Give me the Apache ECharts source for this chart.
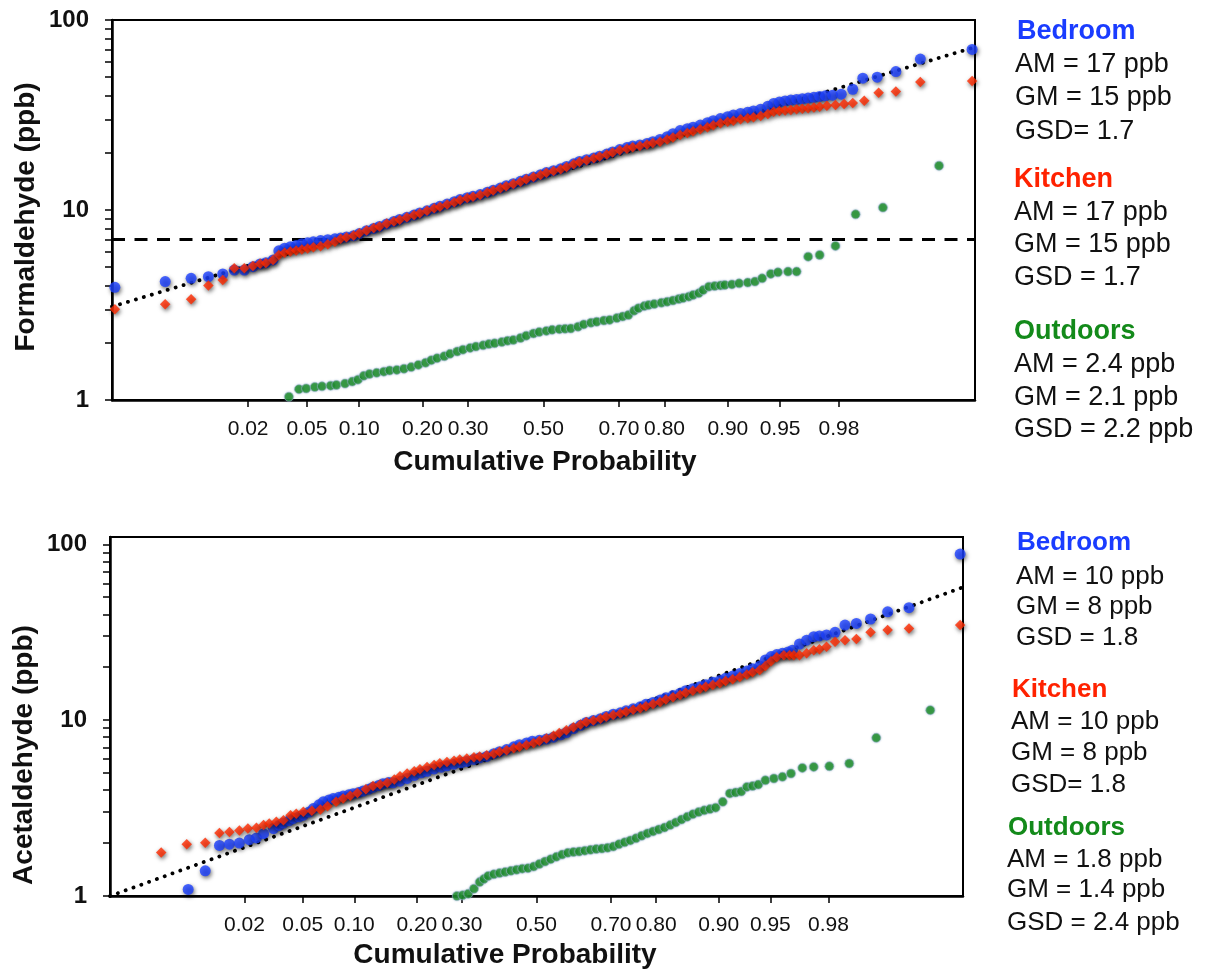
<!DOCTYPE html>
<html><head><meta charset="utf-8">
<script src="https://cdn.jsdelivr.net/npm/echarts@6/dist/echarts.min.js"></script>
<style>html,body{margin:0;padding:0;background:#fff}#c{width:1212px;height:970px}</style>
</head><body><div id="c"></div><script>
// ---- tick labels ----
const probTicks = ['0.02','0.05','0.10','0.20','0.30','0.50','0.70','0.80','0.90','0.95','0.98'];
const yMajorTicks = [1, 10, 100];
const yAllTicks = [1,2,3,4,5,6,7,8,9,10,20,30,40,50,60,70,80,90,100];

// ---- data: [normal score z, concentration ppb] ----
const formBedroom = [[-2.98,3.92],[-2.63,4.20],[-2.45,4.37],[-2.33,4.46],[-2.23,4.61],[-2.15,4.83],[-2.08,4.83],[-2.02,5.03],[-1.97,5.20],[-1.93,5.28],[-1.88,5.46],
[-1.84,6.10],[-1.80,6.30],[-1.76,6.40],[-1.72,6.50],[-1.68,6.65],[-1.64,6.72],[-1.60,6.80],[-1.55,6.90],[-1.50,6.98],[-1.45,7.05],[-1.41,7.12],[-1.37,7.20],[-1.32,7.32],[-1.28,7.52],[-1.23,7.78],[-1.18,8.00],[-1.14,8.20],[-1.09,8.45],[-1.04,8.70],[-1.00,8.92],[-0.95,9.15],[-0.90,9.40],[-0.86,9.65],[-0.81,9.90],[-0.76,10.2],[-0.72,10.45],[-0.67,10.75],[-0.62,11.05],[-0.58,11.35],[-0.53,11.6],[-0.49,11.8],[-0.44,12.05],[-0.39,12.4],[-0.35,12.7],[-0.30,13.05],[-0.26,13.4],[-0.21,13.75],[-0.16,14.15],[-0.12,14.5],[-0.07,14.9],[-0.02,15.35],[0.02,15.75],[0.07,16.1],[0.12,16.5],[0.16,16.95],[0.21,17.5],[0.25,18.0],[0.30,18.4],[0.35,18.8],[0.39,19.2],[0.44,19.7],[0.48,20.2],[0.53,20.8],[0.58,21.3],[0.62,21.7],[0.67,22.0],[0.72,22.4],[0.76,22.9],[0.81,23.5],[0.86,24.3],[0.90,25.2],[0.95,26.2],[1.00,26.8],[1.04,27.3],[1.09,28.0],[1.14,28.8],[1.18,29.5],[1.23,30.3],[1.28,31.0],[1.32,31.6],[1.37,32.2],[1.42,32.7],[1.46,33.2],[1.51,33.9],[1.56,35.2],[1.60,36.4],[1.64,37.0],[1.68,37.5],[1.72,37.9],[1.76,38.2],[1.80,38.5],[1.84,38.8],[1.88,39.2],[1.92,39.6],[1.96,39.9],[2.01,40.2],[2.07,40.7],[2.15,43.2],[2.22,49.4],[2.32,50.0],[2.45,53.5],[2.62,62.3],[2.98,70.0]];

const formKitchen = [[-2.98,3.00],[-2.63,3.19],[-2.45,3.39],[-2.33,4.00],[-2.23,4.28],[-2.15,4.93],[-2.08,4.93],[-2.02,5.07],[-1.97,5.22],[-1.93,5.26],[-1.88,5.46],[-1.84,5.80],[-1.80,5.95],[-1.76,6.05],[-1.72,6.12],[-1.68,6.20],[-1.64,6.28],[-1.60,6.36],[-1.55,6.45],[-1.50,6.60],[-1.45,6.80],[-1.41,7.05],[-1.37,7.18],[-1.32,7.35],[-1.28,7.55],[-1.23,7.80],[-1.18,8.05],[-1.14,8.20],[-1.09,8.50],[-1.04,8.70],[-1.00,8.88],[-0.95,9.15],[-0.90,9.42],[-0.86,9.62],[-0.81,9.92],[-0.76,10.2],[-0.72,10.4],[-0.67,10.7],[-0.62,11.0],[-0.58,11.3],[-0.53,11.55],[-0.49,11.75],[-0.44,12.0],[-0.39,12.35],[-0.35,12.65],[-0.30,13.0],[-0.26,13.35],[-0.21,13.7],[-0.16,14.1],[-0.12,14.5],[-0.07,14.9],[-0.02,15.3],[0.02,15.7],[0.07,16.05],[0.12,16.4],[0.16,16.85],[0.21,17.4],[0.25,17.9],[0.30,18.3],[0.35,18.7],[0.39,19.1],[0.44,19.6],[0.48,20.1],[0.53,20.6],[0.58,21.0],[0.62,21.4],[0.67,21.7],[0.72,22.1],[0.76,22.5],[0.81,22.9],[0.86,23.5],[0.90,24.1],[0.95,24.8],[1.00,25.4],[1.04,26.0],[1.09,26.6],[1.14,27.3],[1.18,27.9],[1.23,28.6],[1.28,29.1],[1.32,29.5],[1.37,30.0],[1.42,30.4],[1.46,30.8],[1.51,31.2],[1.56,32.0],[1.60,32.9],[1.64,33.2],[1.68,33.4],[1.72,33.6],[1.76,33.9],[1.80,34.1],[1.84,34.3],[1.88,34.6],[1.92,34.9],[1.97,35.4],[2.03,35.7],[2.09,36.1],[2.15,36.6],[2.23,37.6],[2.33,41.4],[2.45,42.0],[2.62,47.2],[2.98,47.8]];

const formOutdoors = [[-1.77,1.04],[-1.70,1.14],[-1.65,1.15],[-1.59,1.17],[-1.54,1.18],[-1.48,1.19],[-1.44,1.20],[-1.38,1.22],[-1.33,1.25],[-1.29,1.28],[-1.25,1.34],[-1.21,1.37],[-1.16,1.39],[-1.11,1.41],[-1.07,1.43],[-1.02,1.44],[-0.97,1.46],[-0.92,1.49],[-0.87,1.53],[-0.82,1.57],[-0.78,1.62],[-0.74,1.66],[-0.69,1.70],[-0.65,1.75],[-0.60,1.80],[-0.56,1.84],[-0.51,1.88],[-0.47,1.91],[-0.42,1.94],[-0.38,1.97],[-0.34,1.99],[-0.29,2.02],[-0.25,2.05],[-0.21,2.07],[-0.16,2.12],[-0.12,2.18],[-0.07,2.24],[-0.03,2.28],[0.02,2.31],[0.06,2.34],[0.11,2.36],[0.15,2.37],[0.19,2.38],[0.24,2.43],[0.28,2.50],[0.33,2.55],[0.37,2.58],[0.42,2.62],[0.46,2.64],[0.51,2.70],[0.55,2.75],[0.59,2.80],[0.63,2.95],[0.66,3.04],[0.70,3.12],[0.73,3.16],[0.77,3.20],[0.82,3.25],[0.86,3.29],[0.90,3.34],[0.94,3.40],[0.97,3.44],[1.01,3.50],[1.04,3.57],[1.08,3.65],[1.11,3.79],[1.15,3.95],[1.19,3.98],[1.23,4.01],[1.26,4.03],[1.31,4.06],[1.36,4.11],[1.42,4.15],[1.47,4.20],[1.52,4.37],[1.58,4.61],[1.63,4.70],[1.70,4.74],[1.76,4.74],[1.84,5.68],[1.92,5.80],[2.03,6.47],[2.17,9.49],[2.36,10.3],[2.75,17.1]];

const acetBedroom = [[-2.45,1.09],[-2.33,1.39],[-2.23,1.94],[-2.16,1.97],[-2.09,2.00],[-2.02,2.09],[-1.97,2.14],[-1.92,2.26],[-1.85,2.42],[-1.81,2.52],[-1.78,2.60],[-1.74,2.68],[-1.71,2.76],[-1.67,2.82],[-1.64,2.88],[-1.60,3.00],[-1.57,3.14],[-1.53,3.30],[-1.50,3.43],[-1.46,3.52],[-1.43,3.58],[-1.39,3.64],[-1.36,3.70],[-1.32,3.76],[-1.29,3.82],[-1.25,3.88],[-1.22,3.95],[-1.18,4.05],[-1.15,4.15],[-1.11,4.25],[-1.08,4.35],[-1.04,4.42],[-1.01,4.40],[-0.96,4.50],[-0.91,4.66],[-0.86,4.85],[-0.81,5.02],[-0.77,5.12],[-0.72,5.28],[-0.67,5.40],[-0.63,5.50],[-0.58,5.62],[-0.53,5.72],[-0.49,5.82],[-0.44,5.98],[-0.40,6.10],[-0.35,6.22],[-0.30,6.45],[-0.26,6.62],[-0.21,6.80],[-0.16,7.05],[-0.12,7.25],[-0.07,7.42],[-0.03,7.58],[0.02,7.68],[0.07,7.80],[0.12,8.00],[0.17,8.25],[0.21,8.50],[0.26,8.95],[0.31,9.35],[0.35,9.70],[0.40,9.95],[0.45,10.2],[0.49,10.5],[0.54,10.8],[0.59,11.0],[0.63,11.3],[0.68,11.6],[0.73,11.9],[0.77,12.3],[0.82,12.6],[0.87,13.0],[0.91,13.4],[0.96,13.8],[1.01,14.2],[1.05,14.7],[1.10,15.1],[1.15,15.5],[1.19,15.9],[1.24,16.4],[1.29,16.8],[1.33,17.3],[1.38,17.8],[1.43,18.4],[1.48,19.0],[1.52,19.6],[1.57,20.3],[1.61,22.0],[1.65,23.0],[1.69,23.6],[1.73,24.0],[1.77,24.4],[1.80,25.0],[1.85,27.1],[1.90,28.5],[1.95,29.8],[1.99,30.1],[2.04,30.5],[2.10,31.6],[2.17,34.7],[2.25,35.5],[2.35,37.6],[2.47,41.3],[2.62,43.6],[2.98,88.0]];

const acetKitchen = [[-2.64,1.77],[-2.46,1.97],[-2.33,2.01],[-2.23,2.28],[-2.16,2.31],[-2.09,2.36],[-2.03,2.42],[-1.97,2.44],[-1.92,2.53],[-1.88,2.58],[-1.83,2.64],[-1.78,2.70],[-1.73,2.88],[-1.69,2.94],[-1.64,3.01],[-1.58,3.05],[-1.52,3.10],[-1.47,3.24],[-1.41,3.43],[-1.36,3.58],[-1.31,3.72],[-1.26,3.85],[-1.20,4.05],[-1.15,4.22],[-1.10,4.30],[-1.05,4.40],[-1.00,4.60],[-0.96,4.80],[-0.91,4.97],[-0.86,5.12],[-0.82,5.25],[-0.77,5.42],[-0.72,5.55],[-0.68,5.68],[-0.63,5.79],[-0.58,5.88],[-0.54,5.97],[-0.49,6.05],[-0.44,6.15],[-0.40,6.22],[-0.35,6.32],[-0.30,6.45],[-0.26,6.60],[-0.21,6.75],[-0.16,6.92],[-0.12,7.05],[-0.07,7.21],[-0.02,7.42],[0.02,7.62],[0.07,7.87],[0.12,8.15],[0.16,8.45],[0.21,8.77],[0.26,9.10],[0.31,9.45],[0.35,9.75],[0.40,9.95],[0.45,10.2],[0.49,10.45],[0.54,10.7],[0.59,10.9],[0.63,11.15],[0.68,11.45],[0.73,11.7],[0.77,12.0],[0.82,12.35],[0.87,12.7],[0.91,13.1],[0.96,13.5],[1.01,13.9],[1.05,14.3],[1.10,14.7],[1.15,15.1],[1.19,15.5],[1.24,15.85],[1.29,16.2],[1.33,16.7],[1.38,17.1],[1.43,17.6],[1.48,18.2],[1.52,18.7],[1.57,19.3],[1.61,20.3],[1.65,21.6],[1.69,22.8],[1.74,23.4],[1.78,23.4],[1.81,23.4],[1.85,23.4],[1.90,24.0],[1.95,25.0],[1.99,25.3],[2.04,26.1],[2.10,27.9],[2.17,28.5],[2.25,28.9],[2.35,31.6],[2.47,32.5],[2.62,33.2],[2.98,34.7]];

const acetOutdoors = [[-0.56,1.00],[-0.52,1.01],[-0.48,1.03],[-0.44,1.10],[-0.40,1.20],[-0.37,1.25],[-0.34,1.30],[-0.30,1.33],[-0.26,1.35],[-0.22,1.37],[-0.18,1.39],[-0.14,1.41],[-0.10,1.43],[-0.06,1.44],[-0.02,1.47],[0.02,1.52],[0.06,1.57],[0.10,1.62],[0.14,1.67],[0.18,1.72],[0.22,1.76],[0.26,1.78],[0.30,1.79],[0.34,1.81],[0.38,1.83],[0.42,1.85],[0.46,1.86],[0.50,1.88],[0.54,1.91],[0.58,1.97],[0.62,2.02],[0.66,2.07],[0.70,2.13],[0.74,2.20],[0.78,2.27],[0.82,2.33],[0.86,2.39],[0.90,2.45],[0.94,2.53],[0.98,2.62],[1.02,2.72],[1.06,2.82],[1.10,2.92],[1.14,3.00],[1.18,3.07],[1.22,3.12],[1.26,3.18],[1.31,3.43],[1.36,3.83],[1.40,3.88],[1.44,3.93],[1.48,4.17],[1.52,4.22],[1.56,4.30],[1.61,4.55],[1.67,4.66],[1.73,4.76],[1.79,4.97],[1.87,5.35],[1.95,5.42],[2.06,5.47],[2.20,5.67],[2.39,7.93],[2.77,11.4]];

const formFit = [[-3, 3.1], [3, 72]];
const acetFit = [[-3, 1.0], [3, 57]];
const formThreshold = [[-3, 7], [3, 7]];

const formStats = [
  {name:'Bedroom', color:'#1a3cff', lines:['AM = 17 ppb','GM = 15 ppb','GSD= 1.7']},
  {name:'Kitchen', color:'#ff2200', lines:['AM = 17 ppb','GM = 15 ppb','GSD = 1.7']},
  {name:'Outdoors', color:'#138a1a', lines:['AM = 2.4 ppb','GM = 2.1 ppb','GSD = 2.2 ppb']}
];
const acetStats = [
  {name:'Bedroom', color:'#1a3cff', lines:['AM = 10 ppb','GM = 8 ppb','GSD = 1.8']},
  {name:'Kitchen', color:'#ff2200', lines:['AM = 10 ppb','GM = 8 ppb','GSD= 1.8']},
  {name:'Outdoors', color:'#138a1a', lines:['AM = 1.8 ppb','GM = 1.4 ppb','GSD = 2.4 ppb']}
];

// inverse standard normal CDF (probability axis transform)
function probit(p){
  const a=[-3.969683028665376e+01,2.209460984245205e+02,-2.759285104469687e+02,1.383577518672690e+02,-3.066479806614716e+01,2.506628277459239e+00];
  const b=[-5.447609879822406e+01,1.615858368580409e+02,-1.556989798598866e+02,6.680131188771972e+01,-1.328068155288572e+01];
  const c=[-7.784894002430293e-03,-3.223964580411365e-01,-2.400758277161838e+00,-2.549732539343734e+00,4.374664141464968e+00,2.938163982698783e+00];
  const d=[7.784695709041462e-03,3.224671290700398e-01,2.445134137142996e+00,3.754408661907416e+00];
  const pl=0.02425, ph=1-pl; let q,r;
  if(p<pl){q=Math.sqrt(-2*Math.log(p));return (((((c[0]*q+c[1])*q+c[2])*q+c[3])*q+c[4])*q+c[5])/((((d[0]*q+d[1])*q+d[2])*q+d[3])*q+1);}
  if(p<=ph){q=p-0.5;r=q*q;return (((((a[0]*r+a[1])*r+a[2])*r+a[3])*r+a[4])*r+a[5])*q/(((((b[0]*r+b[1])*r+b[2])*r+b[3])*r+b[4])*r+1);}
  q=Math.sqrt(-2*Math.log(1-p));return -(((((c[0]*q+c[1])*q+c[2])*q+c[3])*q+c[4])*q+c[5])/((((d[0]*q+d[1])*q+d[2])*q+d[3])*q+1);
}
const zTicks = probTicks.map(s => probit(parseFloat(s)));

const FONT = '"Liberation Sans", Arial, Helvetica, sans-serif';
const BLUE = '#1b40ff', RED = '#ff2a00', GREEN = '#138a1a';

function xAxisFor(gi){
  return {
    type:'value', gridIndex:gi, min:-3, max:3,
    axisLine:{onZero:false, lineStyle:{color:'#000', width:2.5}},
    axisTick:{show:true, customValues:zTicks, length:7, lineStyle:{color:'#000', width:1.5}},
    axisLabel:{customValues:zTicks, fontSize:21, fontFamily:FONT, color:'#111', margin:19,
      formatter:function(v){ for(let i=0;i<zTicks.length;i++){ if(Math.abs(zTicks[i]-v)<1e-4) return probTicks[i]; } return ''; }},
    splitLine:{show:false}
  };
}
function yAxisFor(gi, maxV){
  return {
    type:'log', logBase:10, gridIndex:gi, min:1, max:maxV, position:'left',
    axisLine:{onZero:false, lineStyle:{color:'#000', width:2.5}},
    axisTick:{show:true, customValues:yAllTicks, length:7, lineStyle:{color:'#000', width:1.5}},
    axisLabel:{customValues:yMajorTicks, fontSize:24, fontWeight:'bold', fontFamily:FONT, color:'#111', margin:23},
    splitLine:{show:false}, minorTick:{show:false}
  };
}
const shadowDark = {shadowBlur:4, shadowColor:'rgba(0,0,0,0.7)', shadowOffsetX:1, shadowOffsetY:2};
function scatter(data, xi, yi, color, symbol, size, extra){
  return {type:'scatter', xAxisIndex:xi, yAxisIndex:yi, data:data, symbol:symbol, symbolSize:size, clip:false,
    itemStyle:Object.assign({color:color}, extra||{}), emphasis:{disabled:true}, silent:true, animation:false};
}
function line(data, xi, yi, style, z){
  return {type:'line', xAxisIndex:xi, yAxisIndex:yi, data:data, symbol:'none', lineStyle:style, z:z, silent:true, animation:false};
}
const greenStyle = {borderColor:'rgba(150,180,200,0.85)', borderWidth:0.8, shadowBlur:2, shadowColor:'rgba(120,150,190,0.6)'};

const dotted = {color:'#000', width:3.8, type:[0.1, 8.2], cap:'round'};
const dashed = {color:'#000', width:3, type:[13, 9.5]};

const graphics = [];
function addText(text, x, y, font, fill, rot){
  graphics.push({type:'text', x:x, y:y, rotation:rot||0, z:100,
    style:{text:text, font:font, fill:fill, textAlign: rot? 'center':'left', textVerticalAlign:'middle', align: rot?'center':'left', verticalAlign:'middle'}});
}
function addCentered(text, x, y, font, fill){
  graphics.push({type:'text', x:x, y:y, z:100,
    style:{text:text, font:font, fill:fill, textAlign:'center', textVerticalAlign:'middle', align:'center', verticalAlign:'middle'}});
}
// legends (stats blocks)
const topHeadY = [32, 180, 332], topLineY = [[65,98,132],[213,245,278],[365,398,430]];
const topHeadX = [1017, 1014, 1014], topLineX = [1015, 1014, 1014];
formStats.forEach((s,i)=>{
  addText(s.name, topHeadX[i], topHeadY[i], 'bold 27px '+FONT, s.color);
  s.lines.forEach((t,j)=> addText(t, topLineX[i], topLineY[i][j], '27px '+FONT, '#111'));
});
const botHeadY = [543, 690, 828], botLineY = [[577,607,638],[722,753,785],[860,890,923]];
const botHeadX = [1017, 1012, 1008], botLineX = [1016, 1011, 1007];
acetStats.forEach((s,i)=>{
  addText(s.name, botHeadX[i], botHeadY[i], 'bold 26px '+FONT, s.color);
  s.lines.forEach((t,j)=> addText(t, botLineX[i], botLineY[i][j], '26px '+FONT, '#111'));
});
// axis titles
addCentered('Cumulative Probability', 545, 462, 'bold 28px '+FONT, '#111');
addCentered('Cumulative Probability', 505, 955, 'bold 28px '+FONT, '#111');
addText('Formaldehyde (ppb)', 26, 217, 'bold 28px '+FONT, '#111', Math.PI/2);
addText('Acetaldehyde (ppb)', 24, 755, 'bold 28px '+FONT, '#111', Math.PI/2);

const option = {
  backgroundColor:'#fff',
  animation:false,
  grid:[
    {left:112, top:20, width:863, height:380, show:true, borderColor:'#000', borderWidth:2, backgroundColor:'rgba(0,0,0,0)'},
    {left:110, top:537, width:853, height:359, show:true, borderColor:'#000', borderWidth:2, backgroundColor:'rgba(0,0,0,0)'}
  ],
  xAxis:[xAxisFor(0), xAxisFor(1)],
  yAxis:[yAxisFor(0, 100), yAxisFor(1, 110)],
  series:[
    line(formThreshold, 0, 0, dashed, 1),
    line(formFit, 0, 0, dotted, 2),
    Object.assign(scatter(formBedroom, 0, 0, BLUE, 'circle', 11, shadowDark), {z:3}),
    Object.assign(scatter(formKitchen, 0, 0, RED, 'diamond', 10.5, shadowDark), {z:4}),
    Object.assign(scatter(formOutdoors, 0, 0, GREEN, 'circle', 9, greenStyle), {z:5}),
    line(acetFit, 1, 1, dotted, 2),
    Object.assign(scatter(acetBedroom, 1, 1, BLUE, 'circle', 11, shadowDark), {z:3}),
    Object.assign(scatter(acetKitchen, 1, 1, RED, 'diamond', 10.5, shadowDark), {z:4}),
    Object.assign(scatter(acetOutdoors, 1, 1, GREEN, 'circle', 9, greenStyle), {z:5})
  ],
  graphic:graphics
};
const chart = echarts.init(document.getElementById('c'), null, {renderer:'canvas'});
chart.setOption(option);
</script></body></html>
